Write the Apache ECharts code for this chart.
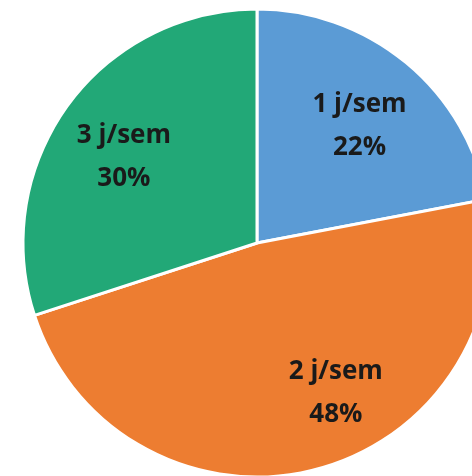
<!DOCTYPE html>
<html>
<head>
<meta charset="utf-8">
<script src="https://cdn.jsdelivr.net/npm/echarts@6/dist/echarts.min.js"></script>
<style>
  html, body { margin: 0; padding: 0; background: #ffffff; }
  #chart { width: 472px; height: 476px; }
</style>
</head>
<body>
<div id="chart"></div>
<script>
// Days per week categories and their shares (percent)
const categories = ['1 j/sem', '2 j/sem', '3 j/sem'];
const shares = [22, 48, 30];
const sliceColors = ['#5B9BD5', '#ED7D31', '#22A877'];
// Nudge each label toward the outer part of its slice
const labelOffsets = [[26, -24], [49, 34], [-36, -15]];

const chart = echarts.init(document.getElementById('chart'), null, { renderer: 'canvas' });

const data = categories.map((name, i) => ({
  name: name,
  value: shares[i],
  itemStyle: { color: sliceColors[i] },
  label: { offset: labelOffsets[i] }
}));

chart.setOption({
  animation: false,
  backgroundColor: '#ffffff',
  series: [{
    type: 'pie',
    center: [257, 243],
    radius: 234,
    startAngle: 90,
    clockwise: true,
    silent: true,
    data: data,
    itemStyle: { borderColor: '#ffffff', borderWidth: 3 },
    label: {
      show: true,
      position: 'inside',
      formatter: p => p.name + '\n' + p.value + '%',
      fontFamily: 'Open Sans',
      fontWeight: 'bold',
      fontSize: 26,
      lineHeight: 43,
      color: '#1a1a1a',
      align: 'center'
    },
    labelLine: { show: false }
  }]
});
</script>
</body>
</html>
